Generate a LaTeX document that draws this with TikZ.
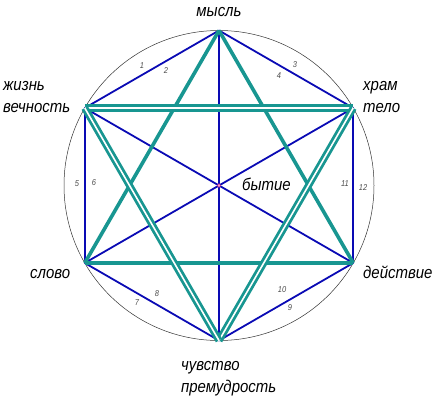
\documentclass[tikz,border=0pt]{standalone}
\usepackage{fontspec}
\setmainfont{Liberation Sans}
\newfontfamily\gost{Liberation Sans}[FakeStretch=0.88]
\usetikzlibrary{calc}
\definecolor{hexblue}{RGB}{10,10,180}
\definecolor{starteal}{RGB}{24,150,145}
\tikzset{
  edge/.style={draw=hexblue, line width=1.8pt},
  single/.style={draw=starteal, line width=3.6pt},
  twin/.style={draw=starteal, line width=2.8pt, double=white, double distance=1.6pt},
  num/.style={font=\gost\itshape\fontsize{8.5}{9}\selectfont, text=black!70, inner sep=0pt},
  word/.style={font=\gost\itshape\fontsize{17}{22}\selectfont, align=left, inner sep=0pt}
}
\begin{document}
\begin{tikzpicture}[x=1pt,y=1pt]
\useasboundingbox (0,0) rectangle (439,400);
\coordinate (c) at (219,214.5);
\foreach \n/\a in {top/90, ur/30, lr/-30, bot/-90, ll/-150, ul/150}
    \coordinate (\n) at ($(c)+(\a:155)$);
\draw[black!80, line width=0.5pt] (c) circle (155);
% hexagon and its three long diagonals
\foreach \p/\q in {top/ur, ur/lr, lr/bot, bot/ll, ll/ul, ul/top, top/bot, ul/lr, ur/ll}
    \draw[edge] (\p) -- (\q);
% the two triangles
\foreach \p/\q in {top/ll, ll/lr, lr/top}
    \draw[single] (\p) -- (\q);
\foreach \p/\q in {ul/ur, ur/bot, bot/ul}
    \draw[twin] (\p) -- (\q);
\node[circle, draw=magenta!80!black, fill=magenta!40, inner sep=1.3pt] (cdot) at (c) {};
% words (base = last line)
\node[word, anchor=base] (think) at (219,383) {мысль};
\node[word, anchor=base west] (temple) at (363,288) {храм\\тело};
\node[word, anchor=base west] (life) at (3,288) {жизнь\\вечность};
\node[word, anchor=base west] (word) at (30,122) {слово};
\node[word, anchor=base west] (deed) at (363,122) {действие};
\node[word, anchor=base west] (feel) at (181,8) {чувство\\премудрость};
\node[word, anchor=base west] (being) at (242,210) {бытие};
% edge numbers
\foreach \k/\x/\y in {1/142/334, 2/166/329, 3/295/335, 4/279/324, 5/77/216, 6/94/217,
                      7/137/97, 8/157/106, 9/290/92, 10/282/110, 11/345/216, 12/363/212}
    \node[num] (n\k) at (\x,\y) {\k};
\end{tikzpicture}
\end{document}
